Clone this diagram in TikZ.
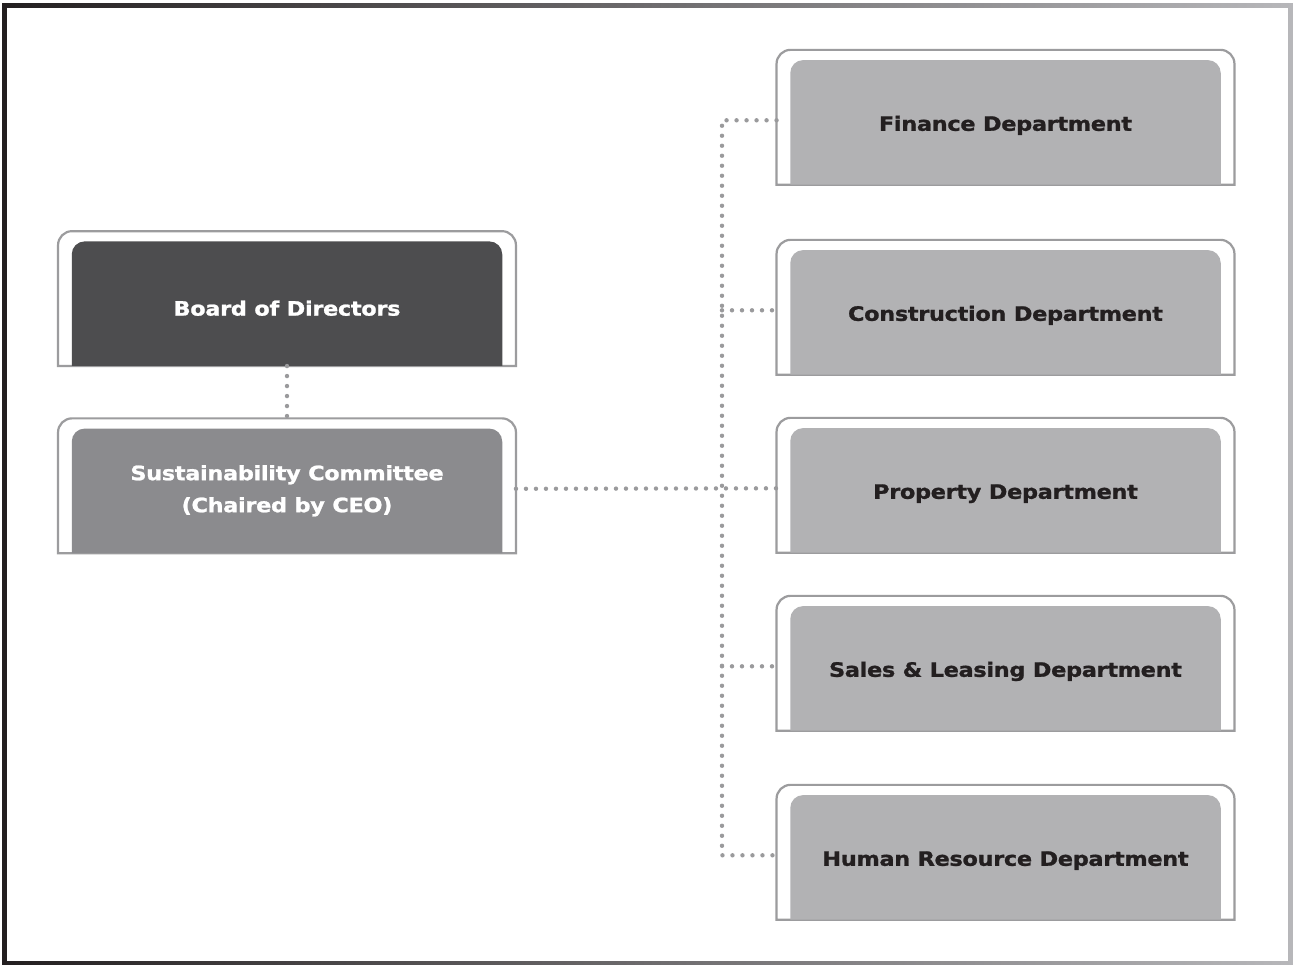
\documentclass[tikz,border=0pt]{standalone}
\usepackage{fontspec}
\setmainfont{DejaVu Sans}[FakeStretch=1.13, LetterSpace=-1.5, BoldFeatures={FakeBold=1.2}]
\usetikzlibrary{backgrounds}
\definecolor{framedark}{HTML}{231F20}
\definecolor{framelight}{HTML}{B7B7BA}
\definecolor{outline}{HTML}{9C9C9E}
\definecolor{boarddark}{HTML}{4D4D4F}
\definecolor{committee}{HTML}{8B8B8E}
\definecolor{deptfill}{HTML}{B2B2B4}
\definecolor{txtdark}{HTML}{231F20}
\definecolor{dotc}{HTML}{9A9A9C}
\begin{document}
\begin{tikzpicture}[x=1pt,y=-1pt,
  innerbox/.style={minimum width=430.5pt, minimum height=124.5pt, inner sep=0pt, align=center,
    font=\fontsize{19.8}{32}\selectfont\bfseries,
    path picture={\fill[#1] (path picture bounding box.south west) [rounded corners=13pt]
      -- (path picture bounding box.north west) -- (path picture bounding box.north east) [sharp corners]
      -- (path picture bounding box.south east) -- cycle;}},
  boardbox/.style={innerbox=boarddark, text=white, text height=24pt, text depth=0pt},
  committeebox/.style={innerbox=committee, text=white},
  deptbox/.style={innerbox=deptfill, text=txtdark, text height=17pt, text depth=0pt},
  outerframe/.style={draw=outline, line width=2.2pt, fill=white},
  dots/.style={draw=dotc, line width=4.4pt, line cap=round, dash pattern=on 0pt off 10pt}
]
\useasboundingbox (0,0) rectangle (1293,964);
\begin{scope}[on background layer]
  \fill[left color=framedark, right color=framelight] (2,3) rectangle (1293,964);
  \fill[white] (7,8) rectangle (1288,961);
\end{scope}

\node[boardbox] (board) at (287,303.6) {Board of Directors};
\node[committeebox] (sust) at (287,490.8) {Sustainability Committee\\(Chaired by CEO)};
\node[deptbox] (fin) at (1005.5,122.3) {Finance Department};
\node[deptbox] (cons) at (1005.5,312.3) {Construction Department};
\node[deptbox] (prop) at (1005.5,490.3) {Property Department};
\node[deptbox] (sales) at (1005.5,668.3) {Sales \& Leasing Department};
\node[deptbox] (hr) at (1005.5,857.3) {Human Resource Department};

\begin{scope}[on background layer]
  \foreach \n in {board,sust,fin,cons,prop,sales,hr}{
    \draw[outerframe] ([xshift=-13.5pt]\n.south west) [rounded corners=14pt]
      -- ([xshift=-13.5pt,yshift=10pt]\n.north west)
      -- ([xshift=13.5pt,yshift=10pt]\n.north east) [sharp corners]
      -- ([xshift=13.5pt]\n.south east) -- cycle;
  }
\end{scope}

\coordinate (tr) at (722,0);
\coordinate (sustR) at ([xshift=13.5pt,yshift=2pt]sust.east);
\coordinate (sustT) at ([yshift=10pt]sust.north);
\foreach \n in {fin,cons,prop,sales,hr}{
  \coordinate (\n L) at ([xshift=-13.5pt,yshift=2pt]\n.west);
}
\draw[dots] (board.south) -- (sustT);
\draw[dots] (sustR) -- (propL);
\draw[dots] (finL) -- (finL -| tr) -- (hrL -| tr) -- (hrL);
\draw[dots] (consL -| tr) -- (consL);
\draw[dots] (salesL -| tr) -- (salesL);
\end{tikzpicture}
\end{document}
